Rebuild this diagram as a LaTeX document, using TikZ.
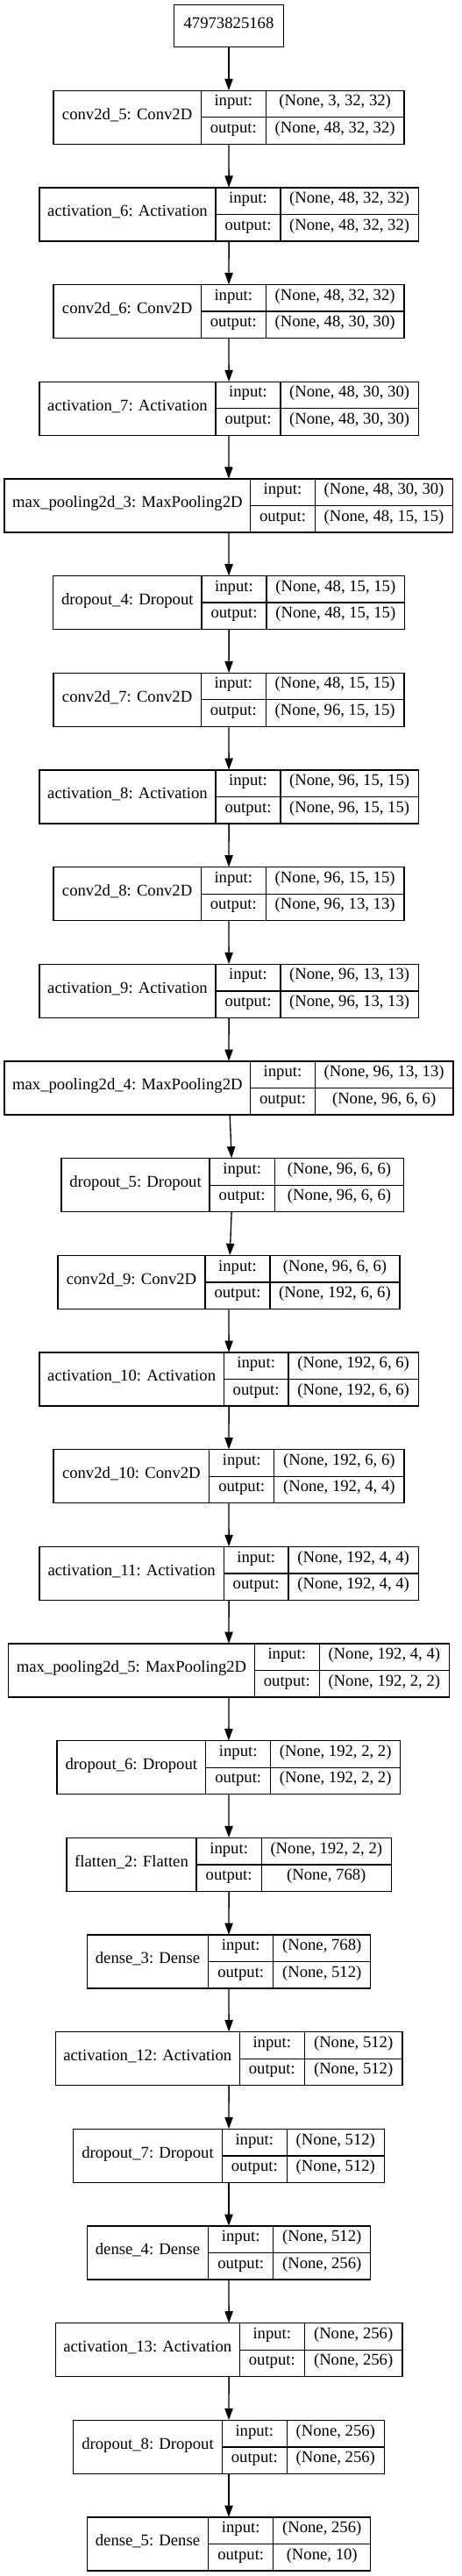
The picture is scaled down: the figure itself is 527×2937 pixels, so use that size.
\documentclass[tikz,border=0pt]{standalone}
\usepackage{fontspec}
\setmainfont{Liberation Serif}
\usetikzlibrary{arrows.meta}

% one keras layer record: name cell | input:/output: | shapes
% #1 node name, #2 row, #3-#6 x edges, #7 label, #8 input shape, #9 output shape
\newcommand\layerrec[9]{%
  \pgfmathsetmacro\ytop{-(103.3+110.67*#2)}
  \node[rec, minimum width={#6-#3}] (#1) at ({(#3+#6)/2},{\ytop-30.5}) {};
  \node[cell, minimum width={#4-#3}, minimum height=61] (#1-name) at ({(#3+#4)/2},{\ytop-30.5}) {#7};
  \node[cell, minimum width={#5-#4}] (#1-inl) at ({(#4+#5)/2},{\ytop-15.25}) {input:};
  \node[cell, minimum width={#5-#4}] (#1-outl) at ({(#4+#5)/2},{\ytop-45.75}) {output:};
  \node[cell, minimum width={#6-#5}] (#1-in) at ({(#5+#6)/2},{\ytop-15.25}) {#8};
  \node[cell, minimum width={#6-#5}] (#1-out) at ({(#5+#6)/2},{\ytop-45.75}) {#9};
}

\begin{document}
\begin{tikzpicture}[x=1pt, y=1pt,
    cell/.style={draw, line width=1.33pt, inner sep=0pt, minimum height=30.5,
      text height=0.68em, text depth=0.2em,
      font=\fontsize{18.67}{22}\selectfont},
    rec/.style={inner sep=0pt, minimum height=61},
    link/.style={line width=1.33pt, -{Triangle[length=13.3pt, width=9.3pt]}}]
  \fill[white] (0,0) rectangle (527,-2937);
  \useasboundingbox (0,0) rectangle (527,-2937);

  \node[cell, minimum width=124.6, minimum height=48] (input) at (261,-29.7) {47973825168};
  %%
  \layerrec{conv5}{0}{61}{229.3}{303.3}{461}{conv2d\_5: Conv2D}{(None, 3, 32, 32)}{(None, 48, 32, 32)}
  \layerrec{act6}{1}{45}{246}{320}{477.3}{activation\_6: Activation}{(None, 48, 32, 32)}{(None, 48, 32, 32)}
  \layerrec{conv6}{2}{61}{229.3}{303.3}{461}{conv2d\_6: Conv2D}{(None, 48, 32, 32)}{(None, 48, 30, 30)}
  \layerrec{act7}{3}{45}{246}{320}{477.3}{activation\_7: Activation}{(None, 48, 30, 30)}{(None, 48, 30, 30)}
  \layerrec{pool3}{4}{5}{285.7}{359.3}{516.7}{max\_pooling2d\_3: MaxPooling2D}{(None, 48, 30, 30)}{(None, 48, 15, 15)}
  \layerrec{drop4}{5}{60.7}{230}{304}{461.7}{dropout\_4: Dropout}{(None, 48, 15, 15)}{(None, 48, 15, 15)}
  \layerrec{conv7}{6}{61}{229.3}{303.3}{461}{conv2d\_7: Conv2D}{(None, 48, 15, 15)}{(None, 96, 15, 15)}
  \layerrec{act8}{7}{45}{246}{320}{477.3}{activation\_8: Activation}{(None, 96, 15, 15)}{(None, 96, 15, 15)}
  \layerrec{conv8}{8}{61}{229.3}{303.3}{461}{conv2d\_8: Conv2D}{(None, 96, 15, 15)}{(None, 96, 13, 13)}
  \layerrec{act9}{9}{45}{246}{320}{477.3}{activation\_9: Activation}{(None, 96, 13, 13)}{(None, 96, 13, 13)}
  \layerrec{pool4}{10}{5}{285.7}{359.3}{517}{max\_pooling2d\_4: MaxPooling2D}{(None, 96, 13, 13)}{(None, 96, 6, 6)}
  \layerrec{drop5}{11}{70}{239}{313.3}{460.7}{dropout\_5: Dropout}{(None, 96, 6, 6)}{(None, 96, 6, 6)}
  \layerrec{conv9}{12}{66}{234}{308}{456}{conv2d\_9: Conv2D}{(None, 96, 6, 6)}{(None, 192, 6, 6)}
  \layerrec{act10}{13}{45}{255.3}{329}{477.3}{activation\_10: Activation}{(None, 192, 6, 6)}{(None, 192, 6, 6)}
  \layerrec{conv10}{14}{61}{238.7}{312.7}{461}{conv2d\_10: Conv2D}{(None, 192, 6, 6)}{(None, 192, 4, 4)}
  \layerrec{act11}{15}{45}{255.3}{329}{477.3}{activation\_11: Activation}{(None, 192, 4, 4)}{(None, 192, 4, 4)}
  \layerrec{pool5}{16}{9.7}{290.3}{364.3}{512.3}{max\_pooling2d\_5: MaxPooling2D}{(None, 192, 4, 4)}{(None, 192, 2, 2)}
  \layerrec{drop6}{17}{65}{234.7}{308.7}{456.7}{dropout\_6: Dropout}{(None, 192, 2, 2)}{(None, 192, 2, 2)}
  \layerrec{flat2}{18}{76}{224}{298.3}{446.3}{flatten\_2: Flatten}{(None, 192, 2, 2)}{(None, 768)}
  \layerrec{dense3}{19}{99.3}{237.7}{311.7}{422.7}{dense\_3: Dense}{(None, 768)}{(None, 512)}
  \layerrec{act12}{20}{63.3}{273.3}{347.3}{459}{activation\_12: Activation}{(None, 512)}{(None, 512)}
  \layerrec{drop7}{21}{83.7}{253.3}{327.3}{438.3}{dropout\_7: Dropout}{(None, 512)}{(None, 512)}
  \layerrec{dense4}{22}{99.3}{237.7}{311.7}{422.7}{dense\_4: Dense}{(None, 512)}{(None, 256)}
  \layerrec{act13}{23}{63.3}{273.3}{347.3}{459}{activation\_13: Activation}{(None, 256)}{(None, 256)}
  \layerrec{drop8}{24}{83.7}{253.3}{327.3}{438.3}{dropout\_8: Dropout}{(None, 256)}{(None, 256)}
  \layerrec{dense5}{25}{99.3}{237.7}{311.7}{422.7}{dense\_5: Dense}{(None, 256)}{(None, 10)}
  %%
  \foreach \a/\b in {input/conv5, conv5/act6, act6/conv6, conv6/act7, act7/pool3,
      pool3/drop4, drop4/conv7, conv7/act8, act8/conv8, conv8/act9, act9/pool4,
      pool4/drop5, drop5/conv9, conv9/act10, act10/conv10, conv10/act11,
      act11/pool5, pool5/drop6, drop6/flat2, flat2/dense3, dense3/act12,
      act12/drop7, drop7/dense4, dense4/act13, act13/drop8, drop8/dense5}
    \draw[link] (\a) -- (\b);
\end{tikzpicture}
\end{document}
